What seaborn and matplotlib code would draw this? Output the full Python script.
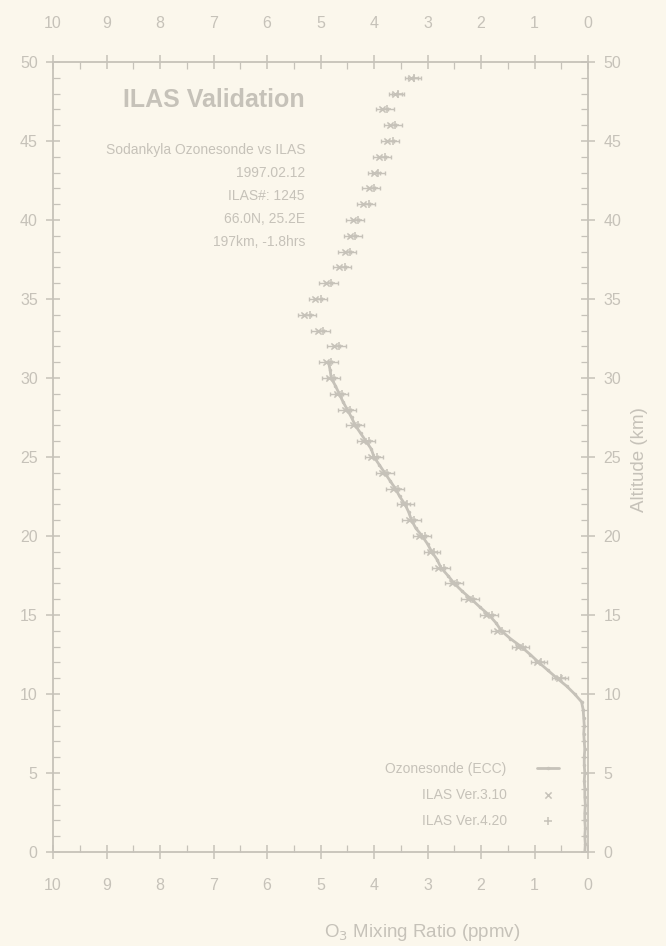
import matplotlib
matplotlib.use("Agg")
import matplotlib.pyplot as plt
import numpy as np
import pandas as pd
import seaborn as sns
from matplotlib.ticker import MultipleLocator

# Ozonesonde profile (altitude km, O3 ppmv)
sonde_alt = [0, 0.5, 1, 1.5, 2, 2.5, 3, 3.5, 4, 4.5, 5, 5.5, 6, 6.5, 7, 7.5, 8, 8.5,
             9, 9.5, 10, 10.5, 11, 11.5, 12, 12.5, 13, 13.5, 14, 14.5, 15, 15.5, 16,
             16.5, 17, 17.5, 18, 18.5, 19, 19.5, 20, 20.5, 21, 21.5, 22, 22.5, 23,
             23.5, 24, 24.5, 25, 25.5, 26, 26.5, 27, 27.5, 28, 28.5, 29, 29.5, 30,
             30.5, 31]
sonde_o3 = [0.06, 0.05, 0.06, 0.05, 0.06, 0.06, 0.05, 0.06, 0.06, 0.07, 0.06, 0.07,
            0.07, 0.06, 0.07, 0.08, 0.07, 0.08, 0.09, 0.12, 0.25, 0.40, 0.58, 0.75,
            0.92, 1.08, 1.25, 1.45, 1.62, 1.72, 1.85, 2.02, 2.18, 2.35, 2.50, 2.62,
            2.75, 2.82, 2.92, 3.00, 3.10, 3.22, 3.30, 3.35, 3.42, 3.52, 3.60, 3.70,
            3.80, 3.90, 4.00, 4.05, 4.15, 4.25, 4.35, 4.42, 4.50, 4.58, 4.65, 4.72,
            4.80, 4.82, 4.85]

# ILAS retrievals
ilas_alt = [11, 12, 13, 14, 15, 16, 17, 18, 19, 20, 21, 22, 23, 24, 25, 26, 27, 28,
            29, 30, 31, 32, 33, 34, 35, 36, 37, 38, 39, 40, 41, 42, 43, 44, 45, 46,
            47, 48, 49]
ilas_v310 = [0.55, 0.95, 1.30, 1.70, 1.90, 2.25, 2.55, 2.80, 2.95, 3.15, 3.35, 3.45,
             3.65, 3.85, 4.05, 4.20, 4.40, 4.55, 4.70, 4.85, 4.90, 4.75, 5.05, 5.30,
             5.10, 4.90, 4.65, 4.55, 4.45, 4.40, 4.20, 4.10, 4.00, 3.90, 3.75, 3.70,
             3.85, 3.60, 3.30]
ilas_v420 = [0.50, 0.88, 1.22, 1.60, 1.80, 2.15, 2.45, 2.70, 2.88, 3.05, 3.25, 3.38,
             3.55, 3.75, 3.95, 4.10, 4.30, 4.45, 4.60, 4.75, 4.80, 4.65, 4.95, 5.20,
             5.00, 4.80, 4.55, 4.45, 4.35, 4.30, 4.10, 4.00, 3.92, 3.80, 3.65, 3.60,
             3.75, 3.55, 3.25]
ilas_err = 0.12

x_ticks = list(range(0, 11))
y_ticks = list(range(0, 51, 5))

info_lines = ["Sodankyla Ozonesonde vs ILAS", "1997.02.12", "ILAS#: 1245",
              "66.0N, 25.2E", "197km, -1.8hrs"]

INK = "#c6c2b9"
BG = "#fbf7ec"

sns.set_theme(style="ticks")
plt.rcParams["font.family"] = ["Liberation Sans", "DejaVu Sans"]
plt.rcParams.update({
    "axes.edgecolor": INK, "xtick.color": INK, "ytick.color": INK,
    "text.color": INK, "axes.labelcolor": INK,
    "figure.facecolor": BG, "axes.facecolor": BG,
})

fig = plt.figure(figsize=(6.66, 9.46), dpi=100)
ax = fig.add_axes([53 / 666, 1 - 852 / 946, (588 - 53) / 666, (852 - 62) / 946])

sonde = pd.DataFrame({"alt": sonde_alt, "o3": sonde_o3})
v310 = pd.DataFrame({"alt": ilas_alt, "o3": ilas_v310})
v420 = pd.DataFrame({"alt": ilas_alt, "o3": ilas_v420})

sns.lineplot(data=sonde, x="o3", y="alt", orient="y", ax=ax, color=INK, lw=2.0,
             marker="o", markersize=2.5, markeredgewidth=0,
             label="Ozonesonde (ECC)")
ax.errorbar(v310["o3"], v310["alt"], xerr=ilas_err, fmt="none", ecolor=INK,
            elinewidth=1.0, capsize=1.5)
sns.scatterplot(data=v310, x="o3", y="alt", ax=ax, marker="x", s=20, color=INK,
                linewidth=1.1, label="ILAS Ver.3.10")
ax.errorbar(v420["o3"], v420["alt"], xerr=ilas_err, fmt="none", ecolor=INK,
            elinewidth=1.0, capsize=1.5)
sns.scatterplot(data=v420, x="o3", y="alt", ax=ax, marker="+", s=30, color=INK,
                linewidth=1.1, label="ILAS Ver.4.20")

ax.set_xlim(10, 0)
ax.set_ylim(0, 49.8)
ax.set_xticks(x_ticks)
ax.set_xticklabels([str(v) for v in x_ticks])
ax.set_yticks(y_ticks)
ax.set_yticklabels([str(v) for v in y_ticks])
ax.xaxis.set_minor_locator(MultipleLocator(0.5))
ax.yaxis.set_minor_locator(MultipleLocator(1))
ax.tick_params(which="major", direction="inout", length=10, width=1.1,
               labelsize=11.5, top=True, bottom=True, left=True, right=True,
               labeltop=False, labelbottom=True, labelleft=True, labelright=True)
ax.tick_params(axis="x", which="major", pad=14)
ax.tick_params(axis="y", which="major", pad=6)
ax.tick_params(which="minor", direction="in", length=5, width=0.9,
               top=True, bottom=True, left=True, right=True)
ax.set_xlabel("")
ax.set_ylabel("")
for sp in ax.spines.values():
    sp.set_color(INK)
    sp.set_linewidth(1.3)

# Top scale labels, set further away from the frame
top = ax.secondary_xaxis("top")
top.set_xticks(x_ticks)
top.set_xticklabels([str(v) for v in x_ticks])
top.tick_params(which="major", length=0, pad=22, labelsize=11.5, colors=INK)
top.spines["top"].set_visible(False)

leg = ax.legend(loc="lower right", frameon=False, markerfirst=False, fontsize=10,
                handlelength=1.6, handletextpad=2.2, labelspacing=0.85,
                bbox_to_anchor=(0.97, 0.015))
for t in leg.get_texts():
    t.set_color(INK)

fig.text(305 / 666, 1 - 100 / 946, "ILAS Validation", ha="right", va="center",
         fontsize=18, fontweight="bold", color=INK)
for i, line in enumerate(info_lines):
    fig.text(305 / 666, 1 - (150 + 23 * i) / 946, line, ha="right", va="center",
             fontsize=10, color=INK)

fig.text(422 / 666, 1 - 932 / 946, "O$_3$ Mixing Ratio (ppmv)", ha="center",
         va="center", fontsize=13.5, color=INK)
fig.text(640 / 666, 1 - 460 / 946, "Altitude (km)", ha="center", va="center",
         rotation=90, fontsize=13.5, color=INK)

fig.savefig("out.png", dpi=100, facecolor=BG)
